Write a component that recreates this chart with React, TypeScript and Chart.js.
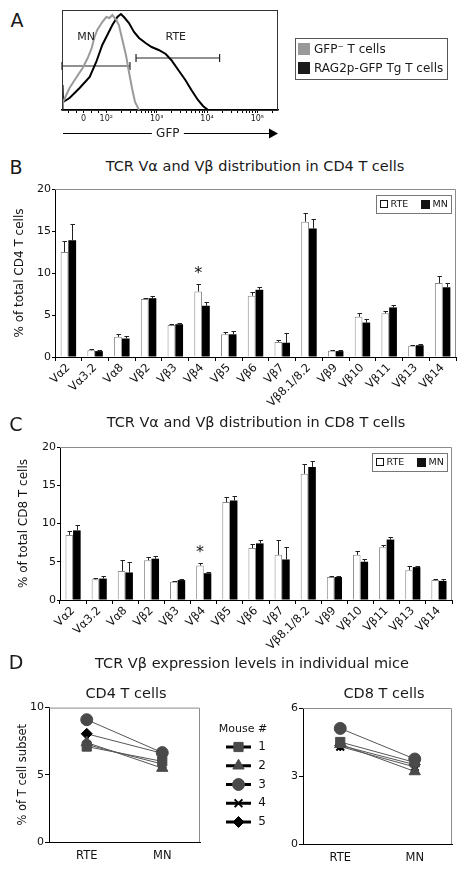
import React, { useEffect, useRef } from 'react';
import { Chart, registerables, PointElement } from 'chart.js';

Chart.register(...registerables);

const FONT = '"DejaVu Sans", "Liberation Sans", sans-serif';
Chart.defaults.font.family = FONT;
Chart.defaults.color = '#1a1a1a';

// ---------------- Panel A: GFP histograms ----------------
const gfpNegX = [1.12, 1.14, 1.27, 1.41, 1.53, 1.63, 1.71, 1.76, 1.82, 1.92, 2.0, 2.06, 2.12, 2.2, 2.25, 2.31, 2.39, 2.45, 2.51, 2.57, 2.65];
const gfpNegY = [0, 8, 22, 33, 42, 52, 62, 72, 80, 88, 93, 92, 95, 90, 85, 72, 55, 38, 22, 8, 0];
const ragX = [1.12, 1.13, 1.14, 1.27, 1.47, 1.67, 1.8, 1.92, 2.02, 2.12, 2.22, 2.29, 2.35, 2.45, 2.55, 2.65, 2.78, 2.9, 3.04, 3.18, 3.29, 3.43, 3.57, 3.69, 3.82, 3.92, 4.02];
const ragY = [0, 25, 8, 12, 22, 33, 48, 65, 75, 85, 93, 96, 93, 87, 78, 72, 67, 63, 60, 56, 50, 40, 30, 20, 10, 4, 0];
const gateMN = [1.12, 2.47];
const gateMNLevel = 44;
const gateRTE = [2.59, 4.25];
const gateRTELevel = 52;
const gateNames = ['MN', 'RTE'];
const gfpTickValues = [1.55, 2, 3, 4, 5];
const gfpTickLabels = ['0', '10²', '10³', '10⁴', '10⁵'];
const gfpLegend = ['GFP⁻ T cells', 'RAG2p-GFP Tg T cells'];

// ---------------- Panels B & C: V-region usage ----------------
const vCategories = ['Vα2', 'Vα3.2', 'Vα8', 'Vβ2', 'Vβ3', 'Vβ4', 'Vβ5', 'Vβ6', 'Vβ7', 'Vβ8.1/8.2', 'Vβ9', 'Vβ10', 'Vβ11', 'Vβ13', 'Vβ14'];
const cd4RTE = [12.5, 0.8, 2.4, 6.9, 3.8, 7.8, 2.7, 7.3, 1.8, 16.1, 0.75, 4.8, 5.2, 1.35, 8.8];
const cd4RTESem = [1.3, 0.15, 0.3, 0.1, 0.1, 0.85, 0.3, 0.4, 0.2, 1.0, 0.05, 0.45, 0.3, 0.1, 0.8];
const cd4MN = [13.9, 0.7, 2.2, 7.0, 3.9, 6.1, 2.7, 8.0, 1.7, 15.3, 0.7, 4.1, 5.9, 1.4, 8.3];
const cd4MNSem = [1.9, 0.1, 0.35, 0.3, 0.1, 0.5, 0.4, 0.35, 1.1, 1.1, 0.1, 0.4, 0.3, 0.1, 0.55];
const cd8RTE = [8.5, 2.7, 3.8, 5.2, 2.4, 4.5, 12.8, 6.8, 5.9, 16.5, 3.0, 5.9, 6.9, 3.9, 2.6];
const cd8RTESem = [0.5, 0.2, 1.4, 0.4, 0.1, 0.3, 0.6, 0.5, 1.9, 1.3, 0.2, 0.5, 0.3, 0.5, 0.2];
const cd8MN = [9.1, 2.8, 3.6, 5.4, 2.6, 3.5, 13.0, 7.4, 5.3, 17.4, 3.0, 5.0, 7.9, 4.3, 2.5];
const cd8MNSem = [0.7, 0.3, 1.4, 0.4, 0.15, 0.2, 0.6, 0.5, 1.6, 0.8, 0.2, 0.3, 0.3, 0.2, 0.2];
const starredCategories = ['Vβ4'];
const seriesNames = ['RTE', 'MN'];

// ---------------- Panel D: individual mice ----------------
const conditions = ['RTE', 'MN'];
const mice = ['1', '2', '3', '4', '5'];
const cd4MouseRTE = [7.1, 7.4, 9.1, 7.25, 8.05];
const cd4MouseMN = [6.0, 5.5, 6.65, 5.8, 6.6];
const cd8MouseRTE = [4.5, 4.4, 5.1, 4.3, 4.35];
const cd8MouseMN = [3.6, 3.2, 3.75, 3.4, 3.5];

const mouseStyles = [
  { pointStyle: 'rect', radius: 6.5, color: '#4a4a4a', bw: 1 },
  { pointStyle: 'triangle', radius: 6.5, color: '#4a4a4a', bw: 1 },
  { pointStyle: 'circle', radius: 6, color: '#4a4a4a', bw: 1 },
  { pointStyle: 'crossRot', radius: 5.5, color: '#000', bw: 2 },
  { pointStyle: 'rectRot', radius: 5.5, color: '#000', bw: 1 },
];

// ---------------- plugins ----------------
const histExtras = {
  id: 'histExtras',
  afterDraw(chart: any) {
    const { ctx, chartArea: a } = chart;
    const xs = chart.scales.x;
    const ys = chart.scales.y;
    ctx.save();
    // frame
    ctx.strokeStyle = '#333';
    ctx.lineWidth = 1;
    ctx.strokeRect(a.left + 0.5, a.top + 0.5, a.right - a.left - 1, a.bottom - a.top);
    // decade labels under the axis
    ctx.fillStyle = '#222';
    ctx.font = `8px ${FONT}`;
    ctx.textAlign = 'center';
    ctx.textBaseline = 'middle';
    gfpTickValues.forEach((v, i) => {
      ctx.fillText(gfpTickLabels[i], xs.getPixelForValue(v), a.bottom + 9);
    });
    // gate labels
    ctx.font = `11px ${FONT}`;
    ctx.fillText(gateNames[0], xs.getPixelForValue(1.6), ys.getPixelForValue(73));
    ctx.fillText(gateNames[1], xs.getPixelForValue(3.38), ys.getPixelForValue(73));
    // GFP arrow
    const ay = a.bottom + 23;
    const cx = a.left + (a.right - a.left) * 0.49;
    ctx.strokeStyle = '#000';
    ctx.lineWidth = 1;
    ctx.beginPath();
    ctx.moveTo(a.left + 1, ay + 0.5);
    ctx.lineTo(cx - 16, ay + 0.5);
    ctx.moveTo(cx + 16, ay + 0.5);
    ctx.lineTo(a.right - 8, ay + 0.5);
    ctx.stroke();
    ctx.fillStyle = '#000';
    ctx.beginPath();
    ctx.moveTo(a.right - 9, ay - 4.5);
    ctx.lineTo(a.right, ay + 0.5);
    ctx.lineTo(a.right - 9, ay + 5.5);
    ctx.closePath();
    ctx.fill();
    ctx.font = `12px ${FONT}`;
    ctx.fillStyle = '#222';
    ctx.fillText('GFP', cx, ay + 1);
    // legend
    const lx = a.right + 17;
    const ly = 38;
    ctx.strokeStyle = '#555';
    ctx.strokeRect(lx + 0.5, ly + 0.5, 152, 41);
    const cols = ['#999', '#1a1a1a'];
    ctx.textAlign = 'left';
    ctx.font = `12px ${FONT}`;
    gfpLegend.forEach((t, i) => {
      const yy = ly + 5 + i * 19;
      ctx.fillStyle = cols[i];
      ctx.fillRect(lx + 3, yy, 12, 12);
      ctx.fillStyle = '#1a1a1a';
      ctx.fillText(t, lx + 19, yy + 6.5);
    });
    ctx.restore();
  },
};

const barExtras = {
  id: 'barExtras',
  afterDatasetsDraw(chart: any) {
    const { ctx, chartArea: a } = chart;
    const y = chart.scales.y;
    ctx.save();
    ctx.strokeStyle = '#222';
    ctx.lineWidth = 1;
    const tops: number[] = [];
    chart.data.datasets.forEach((ds: any, di: number) => {
      chart.getDatasetMeta(di).data.forEach((bar: any, i: number) => {
        const top = y.getPixelForValue(ds.data[i] + ds.sem[i]);
        tops[i] = tops[i] === undefined ? top : Math.min(tops[i], top);
        const x = Math.round(bar.x) + 0.5;
        ctx.beginPath();
        ctx.moveTo(x, bar.y);
        ctx.lineTo(x, Math.round(top) + 0.5);
        ctx.moveTo(x - 2, Math.round(top) + 0.5);
        ctx.lineTo(x + 2.5, Math.round(top) + 0.5);
        ctx.stroke();
      });
    });
    // significance stars
    ctx.fillStyle = '#111';
    ctx.font = `16px ${FONT}`;
    ctx.textAlign = 'center';
    ctx.textBaseline = 'alphabetic';
    const meta0 = chart.getDatasetMeta(0);
    starredCategories.forEach((c) => {
      const k = chart.data.labels.indexOf(c);
      if (k < 0) return;
      ctx.fillText('*', meta0.data[k].x, tops[k] - 16 + 9.5);
    });
    // frame top/right
    ctx.strokeStyle = '#8c8c8c';
    ctx.beginPath();
    ctx.moveTo(a.left, a.top + 0.5);
    ctx.lineTo(a.right - 0.5, a.top + 0.5);
    ctx.lineTo(a.right - 0.5, a.bottom);
    ctx.stroke();
    // legend
    const bw = 75, bh = 18;
    const bx = a.right - 5 - bw;
    const by = a.top + 6;
    ctx.strokeStyle = '#777';
    ctx.strokeRect(bx + 0.5, by + 0.5, bw, bh);
    ctx.font = `9.5px ${FONT}`;
    ctx.textAlign = 'left';
    ctx.textBaseline = 'middle';
    ctx.strokeStyle = '#111';
    ctx.strokeRect(bx + 4.5, by + 5.5, 7, 7);
    ctx.fillStyle = '#111';
    ctx.fillText(chart.data.datasets[0].label, bx + 14.5, by + 9.5);
    ctx.fillRect(bx + 45, by + 5, 9, 9);
    ctx.fillText(chart.data.datasets[1].label, bx + 56.5, by + 9.5);
    ctx.restore();
  },
};

const boxFrame = {
  id: 'boxFrame',
  afterDatasetsDraw(chart: any) {
    const { ctx, chartArea: a } = chart;
    ctx.save();
    ctx.strokeStyle = '#8c8c8c';
    ctx.lineWidth = 1;
    ctx.beginPath();
    ctx.moveTo(a.left, a.top + 0.5);
    ctx.lineTo(a.right - 0.5, a.top + 0.5);
    ctx.lineTo(a.right - 0.5, a.bottom);
    ctx.stroke();
    ctx.restore();
  },
};

const mouseLegend = {
  id: 'mouseLegend',
  afterDraw(chart: any) {
    const ctx = chart.ctx;
    ctx.save();
    ctx.font = `11px ${FONT}`;
    ctx.fillStyle = '#111';
    ctx.textAlign = 'center';
    ctx.textBaseline = 'middle';
    ctx.fillText('Mouse #', 243, 29);
    ctx.font = `12px ${FONT}`;
    mice.forEach((m, i) => {
      const yy = 47 + i * 18.75;
      ctx.strokeStyle = '#000';
      ctx.lineWidth = 3;
      ctx.beginPath();
      ctx.moveTo(226, yy);
      ctx.lineTo(251, yy);
      ctx.stroke();
      const st = mouseStyles[i];
      const pe: any = new (PointElement as any)({
        x: 238.5,
        y: yy,
        options: {
          pointStyle: st.pointStyle,
          radius: st.radius,
          rotation: 0,
          borderWidth: st.bw,
          backgroundColor: st.color,
          borderColor: st.color,
        },
      });
      pe.draw(ctx);
      ctx.fillStyle = '#111';
      ctx.fillText(m, 262, yy);
    });
    ctx.restore();
  },
};

// ---------------- configs ----------------
function histConfig(): any {
  const minor: number[] = [1.25, 1.4, 1.7, 1.85];
  for (let d = 2; d < 5; d++) for (let k = 2; k <= 9; k++) minor.push(d + Math.log10(k));
  minor.push(5 + Math.log10(2));
  const allTicks = [...gfpTickValues, ...minor].sort((p, q) => p - q);
  return {
    type: 'line',
    data: {
      datasets: [
        { label: gfpLegend[0], data: gfpNegX.map((x, i) => ({ x, y: gfpNegY[i] })), borderColor: '#9a9a9a', borderWidth: 2, pointRadius: 0, tension: 0 },
        { label: gfpLegend[1], data: ragX.map((x, i) => ({ x, y: ragY[i] })), borderColor: '#000', borderWidth: 2, pointRadius: 0, tension: 0 },
        { label: 'MN gate', data: gateMN.map((x) => ({ x, y: gateMNLevel })), borderColor: '#222', borderWidth: 1.2, pointStyle: 'line', pointRotation: 90, pointRadius: 4, pointBorderWidth: 1.2, pointBorderColor: '#222', clip: false },
        { label: 'RTE gate', data: gateRTE.map((x) => ({ x, y: gateRTELevel })), borderColor: '#222', borderWidth: 1.2, pointStyle: 'line', pointRotation: 90, pointRadius: 4, pointBorderWidth: 1.2, pointBorderColor: '#222', clip: false },
      ],
    },
    options: {
      responsive: false,
      animation: false,
      layout: { padding: { left: 62, right: 188, top: 10, bottom: 0 } },
      plugins: { legend: { display: false }, tooltip: { enabled: false } },
      scales: {
        x: {
          type: 'linear',
          min: 1.12,
          max: 5.41,
          afterBuildTicks: (s: any) => {
            s.ticks = allTicks.map((v) => ({ value: v }));
          },
          ticks: {
            autoSkip: false,
            maxRotation: 0,
            font: { size: 8 },
            padding: 1,
            color: 'rgba(0,0,0,0)',
            callback: () => ' ',
          },
          grid: { drawOnChartArea: false, tickLength: 3, color: '#000' },
          border: { color: '#000', width: 1.5 },
          afterFit: (s: any) => {
            s.height = 35;
          },
        },
        y: { display: false, min: 0, max: 100 },
      },
    },
    plugins: [histExtras],
  };
}

function barConfig(rte: number[], rteSem: number[], mn: number[], mnSem: number[], yTitle: string, axisW: number, padTop: number, padRight: number, xAxisH: number, titlePad: number): any {
  return {
    type: 'bar',
    data: {
      labels: vCategories,
      datasets: [
        { label: seriesNames[0], data: rte, sem: rteSem, backgroundColor: '#fff', borderColor: '#8a8a8a', borderWidth: 1, categoryPercentage: 0.58, barPercentage: 1 },
        { label: seriesNames[1], data: mn, sem: mnSem, backgroundColor: '#000', borderColor: '#000', borderWidth: 0, categoryPercentage: 0.58, barPercentage: 1 },
      ],
    },
    options: {
      responsive: false,
      animation: false,
      layout: { padding: { left: 0, right: padRight, top: padTop, bottom: 0 } },
      plugins: { legend: { display: false }, tooltip: { enabled: false } },
      scales: {
        x: {
          grid: { display: true, drawOnChartArea: false, tickLength: 4, color: '#000', offset: true },
          border: { color: '#000', width: 1 },
          ticks: { autoSkip: false, minRotation: 45, maxRotation: 45, padding: 0, font: { size: 11.5 }, color: '#111' },
          afterFit: (s: any) => {
            s.height = xAxisH;
          },
        },
        y: {
          min: 0,
          max: 20,
          ticks: { stepSize: 5, padding: 1, font: { size: 11 }, color: '#111' },
          grid: { drawOnChartArea: false, tickLength: 3, color: '#000' },
          border: { color: '#000', width: 1 },
          title: { display: true, text: yTitle, font: { size: 12 }, color: '#111', padding: { top: titlePad, bottom: 0 } },
          afterFit: (s: any) => {
            s.width = axisW;
          },
        },
      },
    },
    plugins: [barExtras],
  };
}

function mouseConfig(rte: number[], mn: number[], max: number, step: number, yTitle: string | null, axisW: number, padTop: number, padRight: number, xAxisH: number, extra: any[]): any {
  return {
    type: 'line',
    data: {
      labels: conditions,
      datasets: mice.map((m, i) => ({
        label: m,
        data: [rte[i], mn[i]],
        borderColor: '#555',
        borderWidth: 1,
        pointStyle: mouseStyles[i].pointStyle,
        pointRadius: mouseStyles[i].radius,
        pointBackgroundColor: mouseStyles[i].color,
        pointBorderColor: mouseStyles[i].color,
        pointBorderWidth: mouseStyles[i].bw,
        tension: 0,
        clip: false,
      })),
    },
    options: {
      responsive: false,
      animation: false,
      layout: { padding: { left: 0, right: padRight, top: padTop, bottom: 0 } },
      plugins: { legend: { display: false }, tooltip: { enabled: false } },
      scales: {
        x: {
          type: 'category',
          offset: true,
          grid: { display: true, drawOnChartArea: false, drawTicks: false, color: '#000' },
          border: { color: '#000', width: 1 },
          ticks: { padding: 7, font: { size: 11.5 }, color: '#111' },
          afterFit: (s: any) => {
            s.height = xAxisH;
          },
        },
        y: {
          min: 0,
          max,
          ticks: { stepSize: step, padding: 1, font: { size: 11 }, color: '#111' },
          grid: { drawOnChartArea: false, tickLength: 4, color: '#000' },
          border: { color: '#000', width: 1 },
          title: yTitle ? { display: true, text: yTitle, font: { size: 11.5 }, color: '#111', padding: { top: 16, bottom: 0 } } : { display: false },
          afterFit: (s: any) => {
            s.width = axisW;
          },
        },
      },
    },
    plugins: [boxFrame, ...extra],
  };
}

// ---------------- components ----------------
function ChartCanvas({ left, top, width, height, make }: { left: number; top: number; width: number; height: number; make: () => any }) {
  const ref = useRef<HTMLCanvasElement | null>(null);
  useEffect(() => {
    if (!ref.current) return;
    const chart = new Chart(ref.current, make());
    return () => chart.destroy();
  }, []);
  return <canvas ref={ref} width={width} height={height} style={{ position: 'absolute', left, top, width, height, display: 'block' }} />;
}

function Text({ x, y, size, children }: { x: number; y: number; size: number; children: React.ReactNode }) {
  return (
    <div style={{ position: 'absolute', left: x, top: y, transform: 'translate(-50%, -50%)', fontSize: size, lineHeight: 1, whiteSpace: 'nowrap', fontFamily: FONT, color: '#1a1a1a' }}>
      {children}
    </div>
  );
}

export default function App() {
  return (
    <div style={{ position: 'absolute', left: 0, top: 0, width: 466, height: 871, background: '#fff', overflow: 'hidden' }}>
      <Text x={17} y={20} size={19}>A</Text>
      <ChartCanvas left={0} top={0} width={466} height={145} make={histConfig} />

      <Text x={16} y={167} size={19}>B</Text>
      <Text x={255} y={166} size={14.5}>TCR Vα and Vβ distribution in CD4 T cells</Text>
      <ChartCanvas left={0} top={180} width={466} height={235} make={() => barConfig(cd4RTE, cd4RTESem, cd4MN, cd4MNSem, '% of total CD4 T cells', 55, 9, 10, 58, 13)} />

      <Text x={16} y={424} size={19}>C</Text>
      <Text x={256} y={422} size={14.5}>TCR Vα and Vβ distribution in CD8 T cells</Text>
      <ChartCanvas left={0} top={438} width={466} height={220} make={() => barConfig(cd8RTE, cd8RTESem, cd8MN, cd8MNSem, '% of total CD8 T cells', 60, 9, 14, 58, 17)} />

      <Text x={16} y={662} size={19}>D</Text>
      <Text x={252} y={663} size={14.5}>TCR Vβ expression levels in individual mice</Text>
      <Text x={126} y={693} size={14.5}>CD4 T cells</Text>
      <Text x={384} y={693} size={14.5}>CD8 T cells</Text>
      <ChartCanvas left={0} top={700} width={290} height={171} make={() => mouseConfig(cd4MouseRTE, cd4MouseMN, 10, 5, '% of T cell subset', 49, 6, 90, 29, [mouseLegend])} />
      <ChartCanvas left={260} top={700} width={206} height={171} make={() => mouseConfig(cd8MouseRTE, cd8MouseMN, 6, 3, null, 43, 8, 14, 27, [])} />
    </div>
  );
}
